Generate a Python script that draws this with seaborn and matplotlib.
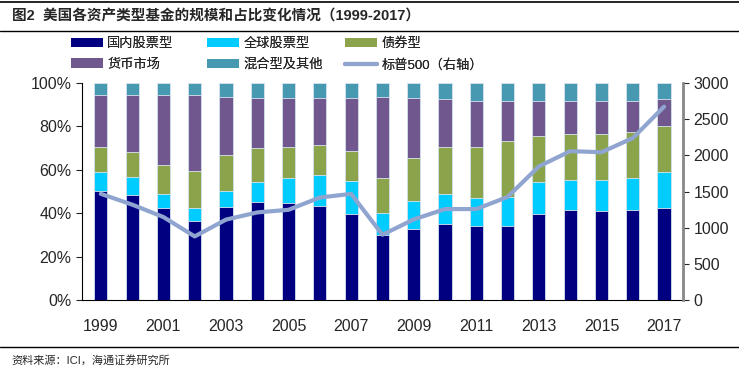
import numpy as np
import pandas as pd
import matplotlib
matplotlib.use('Agg')
import matplotlib.pyplot as plt
from matplotlib.patches import Patch
from matplotlib.lines import Line2D
import seaborn as sns

sns.set_style('white')
plt.rcParams['font.family'] = ['Liberation Sans', 'Noto Sans CJK SC', 'DejaVu Sans']

# shares (%) by fund type
years = [str(y) for y in range(1999, 2018)]
domestic = [50.3, 48.2, 42.3, 36.3, 43.1, 45.4, 44.9, 43.5, 39.5, 29.8,
            32.9, 35.1, 34.3, 34.3, 39.7, 41.7, 41.1, 41.7, 42.5]
world = [8.6, 8.7, 6.8, 6.2, 7.2, 8.8, 11.3, 14.2, 15.4, 10.4,
         12.6, 14.0, 12.8, 13.4, 14.5, 13.8, 14.4, 14.5, 16.3]
bond = [11.7, 11.3, 13.2, 17.0, 16.6, 16.0, 14.4, 13.8, 13.9, 16.0,
        20.0, 21.5, 23.5, 25.7, 21.2, 21.1, 21.1, 21.2, 21.2]
money = [24.0, 26.4, 32.3, 35.1, 26.8, 23.0, 22.6, 21.7, 24.4, 37.5,
         27.6, 21.9, 21.2, 18.4, 16.4, 15.2, 15.2, 14.4, 12.5]
hybrid = [5.4, 5.4, 5.4, 5.4, 6.3, 6.8, 6.8, 6.8, 6.8, 6.3,
          6.9, 7.5, 8.2, 8.2, 8.2, 8.2, 8.2, 8.2, 7.5]
sp500 = [1469, 1320, 1148, 880, 1112, 1212, 1248, 1418, 1468, 903,
         1115, 1258, 1258, 1426, 1848, 2059, 2044, 2239, 2674]

names = ['国内股票型', '全球股票型', '债券型', '货币市场', '混合型及其他']
colors = ['#000080', '#00CCFF', '#8BA44C', '#70588E', '#4699B0']
line_color = '#8FA5CF'

df = pd.DataFrame({'year': years, names[0]: domestic, names[1]: world,
                   names[2]: bond, names[3]: money, names[4]: hybrid})
cum = df[names].cumsum(axis=1)
cum['year'] = years

fig = plt.figure(figsize=(7.39, 3.76), dpi=100)
ax = fig.add_axes([0.111, 0.202, 0.813, 0.577])

# stacked bars: draw cumulative totals from top layer down
for name, c in reversed(list(zip(names, colors))):
    sns.barplot(data=cum, x='year', y=name, color=c, saturation=1, width=0.42,
                edgecolor='#D8E4EE', linewidth=0.6, ax=ax)

ax.set_ylim(0, 100)
ax.set_xlim(-0.6, 18.6)
ax.set_yticks(np.arange(0, 101, 20))
ax.set_yticklabels([f'{v}%' for v in range(0, 101, 20)])
ax.set_xticks(range(0, 19, 2))
ax.set_xticklabels(years[::2])
ax.set_xticks(np.arange(-0.5, 19, 1), minor=True)
ax.tick_params(axis='x', which='major', length=0, pad=14, labelsize=11.5)
ax.tick_params(axis='x', which='minor', length=4, width=0.8, direction='out', color='#444444')
ax.tick_params(axis='y', length=4, width=0.8, direction='out', left=True, labelsize=11.5)
ax.set_xlabel('')
ax.set_ylabel('')
for s in ['top', 'right']:
    ax.spines[s].set_visible(False)
ax.spines['left'].set_color('black')
ax.spines['bottom'].set_color('black')
ax.spines['left'].set_linewidth(0.8)
ax.spines['bottom'].set_linewidth(0.8)

ax2 = ax.twinx()
sns.lineplot(x=np.arange(len(years)), y=sp500, color=line_color, linewidth=3,
             legend=False, ax=ax2)
ax2.set_ylim(0, 3000)
ax2.set_yticks(range(0, 3001, 500))
ax2.tick_params(axis='y', length=4, width=0.8, direction='out', right=True, labelsize=11.5)
ax2.set_ylabel('')
for s in ['top', 'left', 'bottom']:
    ax2.spines[s].set_visible(False)
ax2.spines['right'].set_color('#888888')
ax2.spines['right'].set_linewidth(2)
ax2.set_xlim(-0.6, 18.6)

# legend: three single-column blocks placed like the original
h = [Patch(facecolor=c, edgecolor='none') for c in colors]
line_h = Line2D([0], [0], color=line_color, linewidth=3)
cols = [([h[0], h[3]], [names[0], names[3]], 0.096),
        ([h[1], h[4]], [names[1], names[4]], 0.280),
        ([h[2], line_h], [names[2], '标普500（右轴）'], 0.467)]
for hs, ls, x0 in cols:
    leg = fig.legend(hs, ls, ncol=1, loc='upper left', bbox_to_anchor=(x0, 0.9),
                     frameon=False, fontsize=9.5, handlelength=2.4, handleheight=0.7,
                     labelspacing=0.65, handletextpad=0.35, borderpad=0, borderaxespad=0)
    fig.add_artist(leg)

fig.text(0.016, 0.955, '图2  美国各资产类型基金的规模和占比变化情况（1999-2017）',
         fontsize=10.5, fontweight='bold', va='center', ha='left')
fig.text(0.016, 0.043, '资料来源：ICI，海通证券研究所', fontsize=8, va='center', ha='left')

for yy, lw in [(0.994, 1.2), (0.918, 1.0), (0.077, 1.0)]:
    fig.add_artist(Line2D([0.0, 1.0], [yy, yy], color='black', linewidth=lw,
                          transform=fig.transFigure))

fig.savefig('out.png', dpi=100)
